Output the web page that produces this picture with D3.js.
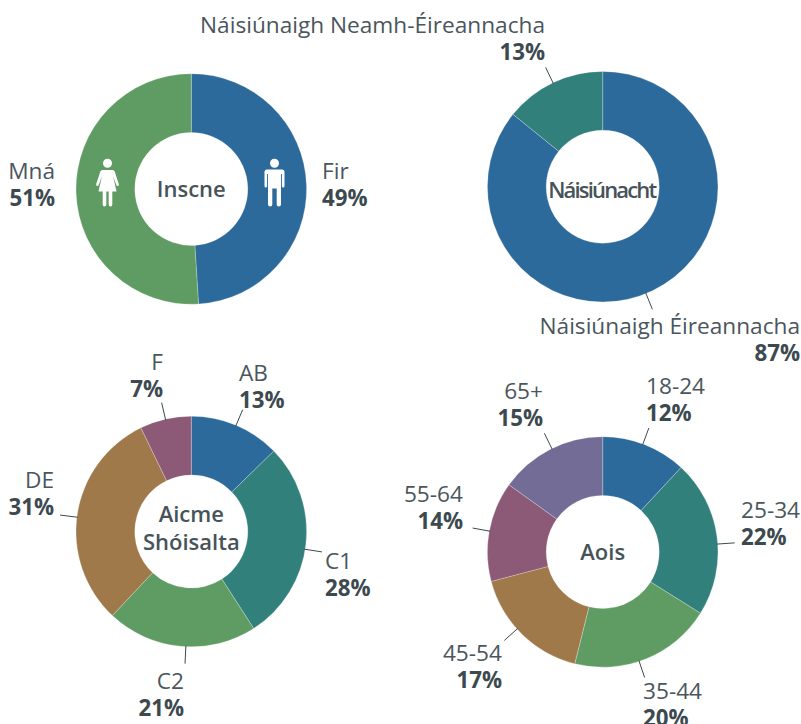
<!DOCTYPE html>
<html>
<head>
<meta charset="utf-8">
<script src="https://cdn.jsdelivr.net/npm/d3@7"></script>
<style>
  html, body { margin: 0; padding: 0; background: #fff; overflow: hidden; }
  text { font-family: "Open Sans", sans-serif; fill: #3c4a50; }
</style>
</head>
<body>
<div id="graph"></div>
<script>
var width = 801,
    height = 724,
    outerR = 115.3,
    innerR = 56.5

// values
var genderNames = ['Fir', 'Mná']
var genderShares = [49, 51]
var genderLabels = ['49%', '51%']

// the drawn slices are a bit off the printed percentages here
var nationNames = ['Náisiúnaigh Éireannacha', 'Náisiúnaigh Neamh-Éireannacha']
var nationShares = [85.8, 14.2]
var nationLabels = ['87%', '13%']

var classNames = ['AB', 'C1', 'C2', 'DE', 'F']
var classShares = [12.7, 28.2, 21.1, 30.8, 7.2]
var classLabels = ['13%', '28%', '21%', '31%', '7%']

var ageNames = ['18-24', '25-34', '35-44', '45-54', '55-64', '65+']
var ageShares = [11.9, 22, 20, 17, 14, 15.1]
var ageLabels = ['12%', '22%', '20%', '17%', '14%', '15%']

var blue = '#2d6a9c', teal = '#32807c', green = '#5f9c63',
    brown = '#a0794a', plum = '#8c5a77', purple = '#736c96'

// label placement: x, baseline y of the name, anchor, leader nudge in degrees
var genderPlace = [
  {x: 322, y: 179, anchor: 'start', leader: false},
  {x: 55, y: 179, anchor: 'end', leader: false}
]
var nationPlace = [
  {x: 800, y: 334, anchor: 'end', leader: true, nudge: 3.5},
  {x: 545, y: 33, anchor: 'end', leader: true, nudge: 0}
]
var classPlace = [
  {x: 239, y: 381, anchor: 'start', leader: true, nudge: 0},
  {x: 325, y: 569, anchor: 'start', leader: true, nudge: 2.4},
  {x: 184, y: 689, anchor: 'end', leader: true, nudge: -2.5},
  {x: 54, y: 488, anchor: 'end', leader: true, nudge: -1.5},
  {x: 163, y: 370, anchor: 'end', leader: true, nudge: 0}
]
var agePlace = [
  {x: 646, y: 394, anchor: 'start', leader: true, nudge: -1},
  {x: 741, y: 518, anchor: 'start', leader: true, nudge: 3.6},
  {x: 643, y: 699, anchor: 'start', leader: true, nudge: 3.5},
  {x: 502, y: 661, anchor: 'end', leader: true, nudge: 3.4},
  {x: 463, y: 502, anchor: 'end', leader: true, nudge: 0},
  {x: 543, y: 399, anchor: 'end', leader: true, nudge: 1}
]

var svg = d3.select('#graph')
  .append('svg')
  .attr('width', width)
  .attr('height', height)
  .style('display', 'block')

var pie = d3.pie().sort(null).value(function(d) { return d })
var arc = d3.arc().innerRadius(innerR).outerRadius(outerR)

function donut(cx, cy, shares, names, labels, colors, place, title, titleWidth) {
  var g = svg.append('g').attr('transform', 'translate(' + cx + ',' + cy + ')')
  var slices = pie(shares)

  g.selectAll('path.slice')
    .data(slices)
    .enter().append('path')
    .attr('class', 'slice')
    .attr('d', arc)
    .attr('fill', function(d, i) { return colors[i] })
    .attr('stroke', '#fff')
    .attr('stroke-opacity', 0.5)
    .attr('stroke-width', 0.5)

  // connector lines run outwards from the middle of each slice
  slices.forEach(function(d, i) {
    var p = place[i]
    if (p.leader) {
      var a = (d.startAngle + d.endAngle) / 2 + (p.nudge || 0) * Math.PI / 180
      svg.append('line')
        .attr('x1', cx + Math.sin(a) * (outerR - 1))
        .attr('y1', cy - Math.cos(a) * (outerR - 1))
        .attr('x2', cx + Math.sin(a) * (outerR + 17))
        .attr('y2', cy - Math.cos(a) * (outerR + 17))
        .attr('stroke', '#3c4a50')
        .attr('stroke-width', 1)
    }
    svg.append('text')
      .attr('x', p.x).attr('y', p.y)
      .attr('text-anchor', p.anchor)
      .attr('font-size', 22.65)
      .attr('font-weight', 400)
      .style('fill', '#4a565c')
      .text(names[i])
    svg.append('text')
      .attr('x', p.x).attr('y', p.y + 27)
      .attr('text-anchor', p.anchor)
      .attr('font-size', 22.3)
      .attr('font-weight', 700)
      .text(labels[i])
  })

  // title in the hole
  title.forEach(function(t) {
    var txt = svg.append('text')
      .attr('x', cx).attr('y', t.y)
      .attr('text-anchor', 'middle')
      .attr('font-size', 22)
      .attr('font-weight', 600)
      .style('fill', '#465359')
      .text(t.text)
    if (titleWidth) txt.attr('textLength', titleWidth).attr('lengthAdjust', 'spacing')
  })
}

donut(191.3, 189, genderShares, genderNames, genderLabels, [blue, green], genderPlace,
  [{text: 'Inscne', y: 197}])
donut(602.7, 186.7, nationShares, nationNames, nationLabels, [blue, teal], nationPlace,
  [{text: 'Náisiúnacht', y: 198}], 109)
donut(191.3, 531.5, classShares, classNames, classLabels, [blue, teal, green, brown, plum], classPlace,
  [{text: 'Aicme', y: 522}, {text: 'Shóisalta', y: 550}])
donut(602.7, 552, ageShares, ageNames, ageLabels, [blue, teal, green, brown, plum, purple], agePlace,
  [{text: 'Aois', y: 560}])

// the two little figures on the gender ring
var man = svg.append('g').attr('transform', 'translate(274.5,158)').attr('fill', '#fff')
man.append('circle').attr('cy', 5.2).attr('r', 4.5)
man.append('path').attr('d', 'M-7.5,11.5 H7.5 Q10,11.5 10,14 V28 Q10,29.5 8.7,29.5 Q7.4,29.5 7.4,28 V16 H6.5 V46.5 Q6.5,48.5 4.3,48.5 Q2.2,48.5 2.2,46.5 V30.5 H-2.2 V46.5 Q-2.2,48.5 -4.3,48.5 Q-6.5,48.5 -6.5,46.5 V16 H-7.4 V28 Q-7.4,29.5 -8.7,29.5 Q-10,29.5 -10,28 V14 Q-10,11.5 -7.5,11.5 Z')

var woman = svg.append('g').attr('transform', 'translate(107.5,158)').attr('fill', '#fff')
woman.append('circle').attr('cy', 5.2).attr('r', 4.5)
woman.append('path').attr('d', 'M-5,12 H5 Q6.6,12 7.2,13.5 L11.3,26 Q11.7,27.6 10.5,28 Q9.3,28.4 8.8,27 L5.5,18 L9,33.5 H4.8 V46.5 Q4.8,48.5 3.1,48.5 Q1.2,48.5 1.2,46.5 V33.5 H-1.2 V46.5 Q-1.2,48.5 -3.1,48.5 Q-4.8,48.5 -4.8,46.5 V33.5 H-9 L-5.5,18 L-8.8,27 Q-9.3,28.4 -10.5,28 Q-11.7,27.6 -11.3,26 L-7.2,13.5 Q-6.6,12 -5,12 Z')
</script>
</body>
</html>
